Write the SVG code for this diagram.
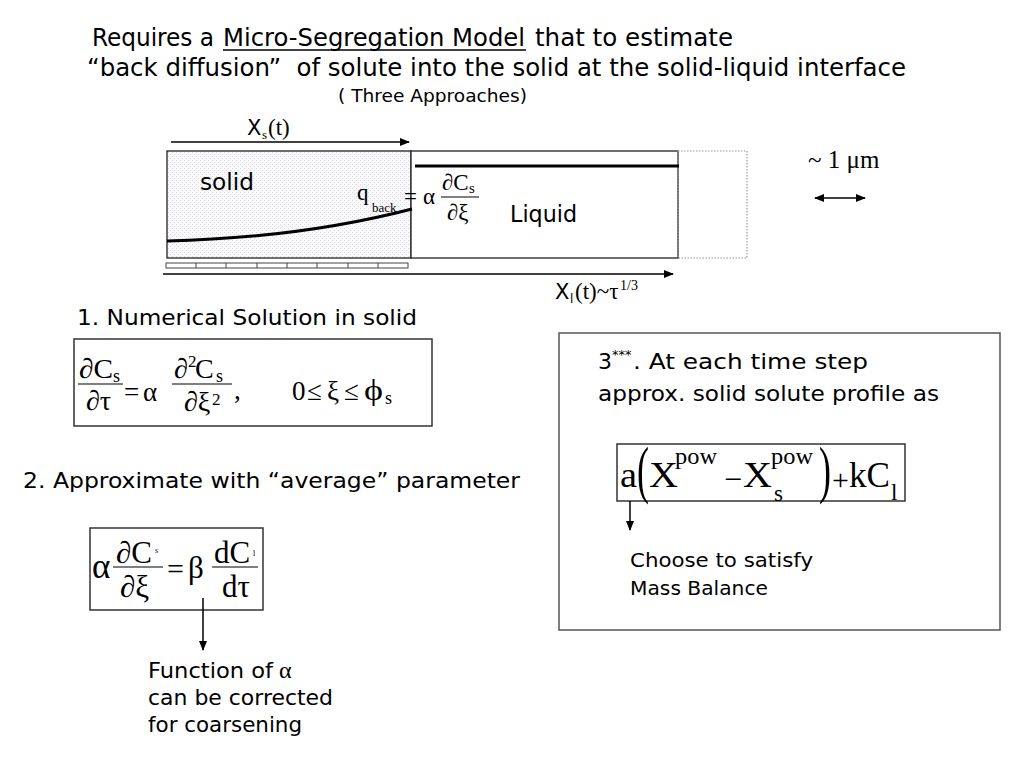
<svg xmlns="http://www.w3.org/2000/svg" width="1024" height="768" viewBox="0 0 1024 768">
<style>
.hand{font-family:"DejaVu Sans","Liberation Sans",sans-serif;fill:#000}
.cond{font-family:"DejaVu Sans Condensed","DejaVu Sans","Liberation Sans",sans-serif;fill:#000}
.m{font-family:"Liberation Serif","Times New Roman",serif;fill:#000}
.box{fill:#fff;stroke:#333;stroke-width:1.5}
.ln{stroke:#000;stroke-width:1.5;fill:none}
.bar{stroke:#000;stroke-width:1.2}
</style>
<defs>
<pattern id="stip" width="4" height="4" patternUnits="userSpaceOnUse">
<rect width="4" height="4" fill="#f9f9fb"/>
<rect x="0" y="0" width="1" height="1" fill="#d6d9e0"/>
<rect x="2" y="2" width="1" height="1" fill="#d6d9e0"/>
</pattern>
<marker id="ah" markerWidth="10" markerHeight="8" refX="9" refY="4" orient="auto" markerUnits="userSpaceOnUse">
<path d="M0,0 L10,4 L0,8 z" fill="#000"/>
</marker>
<marker id="ahs" markerWidth="10" markerHeight="8" refX="1" refY="4" orient="auto" markerUnits="userSpaceOnUse">
<path d="M10,0 L0,4 L10,8 z" fill="#000"/>
</marker>
</defs>
<rect width="1024" height="768" fill="#fff"/>

<g id="header">
<text class="cond" x="92" y="46" font-size="24" textLength="122" lengthAdjust="spacingAndGlyphs">Requires a</text>
<text class="cond" x="223" y="46" font-size="24" textLength="302" lengthAdjust="spacingAndGlyphs">Micro-Segregation Model</text>
<line x1="223" y1="50" x2="526" y2="50" stroke="#000" stroke-width="1.6"/>
<text class="cond" x="535" y="46" font-size="24" textLength="198" lengthAdjust="spacingAndGlyphs">that to estimate</text>
<text class="cond" x="87" y="76" font-size="24" textLength="819" lengthAdjust="spacingAndGlyphs" xml:space="preserve">“back diffusion”  of solute into the solid at the solid-liquid interface</text>
<text class="cond" x="338" y="102" font-size="18" textLength="189" lengthAdjust="spacingAndGlyphs">( Three Approaches)</text>
</g>

<g id="domain">
<rect id="solid" x="167" y="151" width="244" height="107" fill="url(#stip)" stroke="#222" stroke-width="1.3"/>
<rect id="liquid" x="411" y="151" width="267" height="107" fill="#fff" stroke="#222" stroke-width="1.3"/>
<rect id="extension" x="678" y="151" width="69" height="107" fill="none" stroke="#999" stroke-width="1.2" stroke-dasharray="1.5,1.5"/>
<line x1="415" y1="166" x2="679" y2="166" stroke="#000" stroke-width="3"/>
<path d="M167,241 Q300,238 412,209" fill="none" stroke="#000" stroke-width="3"/>
<text class="hand" x="200" y="190" font-size="23" textLength="54" lengthAdjust="spacingAndGlyphs">solid</text>
<text class="hand" x="510" y="222" font-size="23" textLength="67" lengthAdjust="spacingAndGlyphs">Liquid</text>
<text class="m" x="357" y="200" font-size="23">q</text>
<text class="m" x="372" y="212" font-size="13">back</text>
<text class="m" x="404" y="204" font-size="23">=</text>
<text class="m" x="423" y="204" font-size="23">α</text>
<text class="m" x="442" y="190" font-size="23">∂C</text>
<text class="m" x="469" y="193" font-size="15">s</text>
<line class="bar" x1="441" y1="197" x2="479" y2="197"/>
<text class="m" x="447" y="220" font-size="23">∂ξ</text>
<g id="segments" fill="#fff" stroke="#444" stroke-width="1">
<rect x="166" y="263" width="242" height="5"/>
<line x1="196" y1="263" x2="196" y2="268"/>
<line x1="226" y1="263" x2="226" y2="268"/>
<line x1="257" y1="263" x2="257" y2="268"/>
<line x1="287" y1="263" x2="287" y2="268"/>
<line x1="317" y1="263" x2="317" y2="268"/>
<line x1="348" y1="263" x2="348" y2="268"/>
<line x1="378" y1="263" x2="378" y2="268"/>
</g>
<text class="hand" x="247" y="135" font-size="21">X</text>
<text class="m" x="262" y="139" font-size="13">s</text>
<text class="m" x="268" y="135" font-size="23">(t)</text>
<text class="hand" x="555" y="299" font-size="21">X</text>
<text class="hand" x="570" y="303" font-size="12">l</text>
<text class="m" x="575" y="299" font-size="23">(t)~τ</text>
<text class="m" x="620" y="290" font-size="14">1/3</text>
<text class="m" x="808" y="168" font-size="25">~ 1 μm</text>
</g>

<g id="approach1">
<text class="hand" x="77" y="325" font-size="22" textLength="340" lengthAdjust="spacingAndGlyphs">1. Numerical Solution in solid</text>
<rect class="box" x="74" y="339" width="358" height="87"/>
<text class="m" x="79" y="378" font-size="28" textLength="34" lengthAdjust="spacingAndGlyphs">∂C</text>
<text class="m" x="113" y="382" font-size="18">s</text>
<line class="bar" x1="78" y1="384" x2="123" y2="384"/>
<text class="m" x="86" y="410" font-size="28">∂τ</text>
<text class="m" x="124" y="401" font-size="27">=</text>
<text class="m" x="143" y="401" font-size="27">α</text>
<text class="m" x="174" y="378" font-size="28">∂</text>
<text class="m" x="188" y="367" font-size="17">2</text>
<text class="m" x="195" y="378" font-size="28">C</text>
<text class="m" x="216" y="382" font-size="18">s</text>
<line class="bar" x1="172" y1="384" x2="232" y2="384"/>
<text class="m" x="184" y="411" font-size="28">∂ξ</text>
<text class="m" x="212" y="405" font-size="17">2</text>
<text class="m" x="234" y="399" font-size="27">,</text>
<text class="m" x="292" y="400" font-size="27">0</text>
<text class="m" x="307" y="400" font-size="27">≤</text>
<text class="m" x="327" y="400" font-size="27">ξ</text>
<text class="m" x="344" y="400" font-size="27">≤</text>
<text class="m" x="364" y="400" font-size="29" textLength="19" lengthAdjust="spacingAndGlyphs">ϕ</text>
<text class="m" x="385" y="404" font-size="18">s</text>
</g>

<g id="approach2">
<text class="hand" x="23" y="488" font-size="22" textLength="497" lengthAdjust="spacingAndGlyphs" xml:space="preserve">2. Approximate with “average” parameter</text>
<rect class="box" x="90" y="528" width="173" height="82"/>
<text class="m" x="92" y="578" font-size="35">α</text>
<text class="m" x="116" y="563" font-size="31">∂C</text>
<text class="m" x="155" y="553" font-size="8">s</text>
<line class="bar" x1="113" y1="567" x2="163" y2="567"/>
<text class="m" x="120" y="597" font-size="31">∂ξ</text>
<text class="m" x="167" y="579" font-size="30">=</text>
<text class="m" x="188" y="578" font-size="31">β</text>
<text class="m" x="214" y="563" font-size="31">dC</text>
<text class="m" x="253" y="556" font-size="8">l</text>
<line class="bar" x1="212" y1="567" x2="258" y2="567"/>
<text class="m" x="222" y="597" font-size="31">dτ</text>
<text class="hand" x="148" y="678" font-size="21" textLength="125" lengthAdjust="spacingAndGlyphs">Function of</text>
<text class="m" x="279" y="678" font-size="24">α</text>
<text class="hand" x="148" y="705" font-size="21" textLength="185" lengthAdjust="spacingAndGlyphs">can be corrected</text>
<text class="hand" x="148" y="732" font-size="21" textLength="154" lengthAdjust="spacingAndGlyphs">for coarsening</text>
</g>

<g id="approach3">
<rect x="559" y="333" width="441" height="297" fill="#fff" stroke="#555" stroke-width="1.5"/>
<text class="hand" x="598" y="369" font-size="22">3</text>
<text class="hand" x="612" y="359" font-size="13">***</text>
<text class="hand" x="633" y="369" font-size="22" textLength="235" lengthAdjust="spacingAndGlyphs">. At each time step</text>
<text class="hand" x="598" y="401" font-size="22" textLength="341" lengthAdjust="spacingAndGlyphs">approx. solid solute profile as</text>
<rect class="box" x="617" y="444" width="288" height="57"/>
<text class="m" x="620" y="487" font-size="35" textLength="17" lengthAdjust="spacingAndGlyphs">a</text>
<text class="m" transform="translate(637,491) scale(1,1.78)" font-size="36">(</text>
<text class="m" x="649" y="487" font-size="36" textLength="29" lengthAdjust="spacingAndGlyphs">X</text>
<text class="m" x="675" y="464" font-size="23" textLength="42" lengthAdjust="spacingAndGlyphs">pow</text>
<text class="m" x="724" y="490" font-size="32">−</text>
<text class="m" x="743" y="487" font-size="36" textLength="29" lengthAdjust="spacingAndGlyphs">X</text>
<text class="m" x="771" y="464" font-size="23" textLength="42" lengthAdjust="spacingAndGlyphs">pow</text>
<text class="m" x="774" y="501" font-size="23">s</text>
<text class="m" transform="translate(819,491) scale(1,1.78)" font-size="36">)</text>
<text class="m" x="832" y="490" font-size="30">+</text>
<text class="m" x="849" y="487" font-size="35" textLength="41" lengthAdjust="spacingAndGlyphs">kC</text>
<text class="m" x="891" y="500" font-size="23">l</text>
<text class="hand" x="630" y="567" font-size="20" textLength="183" lengthAdjust="spacingAndGlyphs">Choose to satisfy</text>
<text class="hand" x="630" y="595" font-size="20" textLength="138" lengthAdjust="spacingAndGlyphs">Mass Balance</text>
</g>

<g id="connectors">
<line class="ln" x1="171" y1="142" x2="409" y2="142" marker-end="url(#ah)"/>
<line class="ln" x1="163" y1="274" x2="673" y2="274" marker-end="url(#ah)"/>
<line class="ln" x1="815" y1="198" x2="865" y2="198" marker-start="url(#ahs)" marker-end="url(#ah)"/>
<line class="ln" x1="203" y1="598" x2="203" y2="650" marker-end="url(#ah)"/>
<line class="ln" x1="630" y1="501" x2="630" y2="530" marker-end="url(#ah)"/>
</g>
</svg>
